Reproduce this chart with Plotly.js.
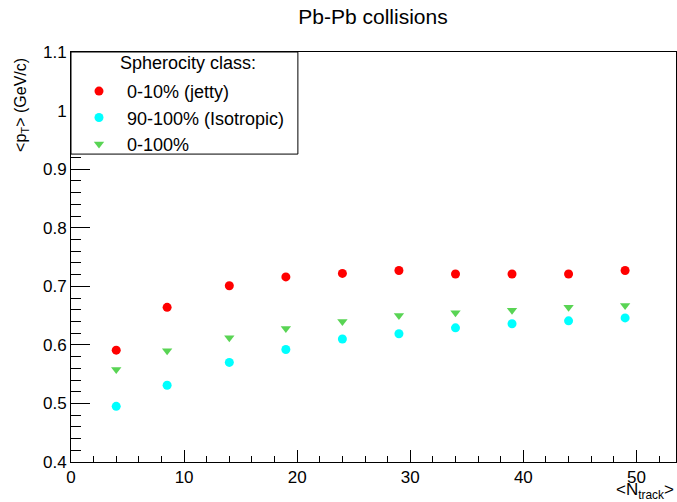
<!DOCTYPE html>
<html>
<head>
<meta charset="utf-8">
<script src="https://cdn.plot.ly/plotly-3.0.1.min.js"></script>
<style>
  body { margin: 0; padding: 0; background: #fff; }
  #chart { width: 677px; height: 502px; }
</style>
</head>
<body>
<div id="chart"></div>
<script>
// mean number of tracks per bin
var nTrack = [4, 8.5, 14, 19, 24, 29, 34, 39, 44, 49];

// <pT> per spherocity class (GeV/c)
var jetty = [0.591, 0.664, 0.701, 0.716, 0.722, 0.727, 0.721, 0.721, 0.721, 0.727];
var isotropic = [0.495, 0.531, 0.570, 0.592, 0.610, 0.619, 0.629, 0.636, 0.641, 0.646];
var allClasses = [0.558, 0.590, 0.612, 0.628, 0.640, 0.650, 0.655, 0.659, 0.664, 0.667];

var names = ['0-10% (jetty)', '90-100% (Isotropic)', '0-100%'];

var font = 'Liberation Sans, Arial, Helvetica, sans-serif';

var trace1 = {
    x: nTrack,
    y: jetty,
    name: names[0],
    mode: 'markers',
    type: 'scatter',
    marker: { color: '#ff0000', size: 9, symbol: 'circle' },
    hoverinfo: 'none'
};
var trace2 = {
    x: nTrack,
    y: isotropic,
    name: names[1],
    mode: 'markers',
    type: 'scatter',
    marker: { color: '#00ffff', size: 9, symbol: 'circle' },
    hoverinfo: 'none'
};
var trace3 = {
    x: nTrack,
    y: allClasses,
    name: names[2],
    mode: 'markers',
    type: 'scatter',
    marker: { color: '#59d454', size: 9, symbol: 'triangle-down' },
    hoverinfo: 'none'
};
var data = [trace1, trace2, trace3];

var layout = {
    width: 677,
    height: 502,
    margin: { l: 71, r: 1, t: 52, b: 40, pad: 0 },
    paper_bgcolor: '#ffffff',
    plot_bgcolor: '#ffffff',
    font: { family: font, size: 17, color: '#000000' },
    title: {
        text: 'Pb-Pb collisions',
        font: { family: font, size: 21, color: '#000000' },
        x: 0.551,
        xanchor: 'center',
        y: 0.966,
        yanchor: 'middle'
    },
    xaxis: {
        range: [0, 53.5],
        showgrid: false,
        zeroline: false,
        showline: true,
        linecolor: '#000000',
        linewidth: 1,
        mirror: true,
        ticks: 'inside',
        ticklen: 12,
        tickcolor: '#000000',
        dtick: 10,
        tick0: 0,
        tickfont: { family: font, size: 17 },
        minor: { ticks: 'inside', ticklen: 6, dtick: 2, tickcolor: '#000000', showgrid: false },
        fixedrange: true
    },
    yaxis: {
        range: [0.4, 1.1],
        showgrid: false,
        zeroline: false,
        showline: true,
        linecolor: '#000000',
        linewidth: 1,
        mirror: true,
        ticks: 'inside',
        ticklen: 19,
        tickcolor: '#000000',
        dtick: 0.1,
        tick0: 0.4,
        tickfont: { family: font, size: 17 },
        minor: { ticks: 'inside', ticklen: 10, dtick: 0.02, tickcolor: '#000000', showgrid: false },
        fixedrange: true
    },
    shapes: [{
        type: 'rect',
        xref: 'paper', yref: 'paper',
        x0: 0, x1: 0.375, y0: 0.751, y1: 1,
        fillcolor: '#ffffff',
        line: { color: '#000000', width: 1 },
        layer: 'above'
    }],
    annotations: [
        {
            text: 'Spherocity class:',
            xref: 'paper', yref: 'paper',
            x: 0.193, y: 0.973,
            xanchor: 'center', yanchor: 'middle',
            showarrow: false,
            font: { family: font, size: 18 }
        },
        {
            text: '&lt;p<sub>T</sub>&gt; (GeV/c)',
            xref: 'paper', yref: 'paper',
            x: 0, y: 0.871,
            xshift: -49,
            xanchor: 'center', yanchor: 'middle',
            textangle: -90,
            showarrow: false,
            font: { family: font, size: 16 }
        },
        {
            text: '&lt;N<sub>track</sub>&gt;',
            xref: 'paper', yref: 'paper',
            x: 1, y: 0,
            yshift: -29,
            xanchor: 'right', yanchor: 'middle',
            showarrow: false,
            font: { family: font, size: 17 }
        }
    ],
    legend: {
        x: 0, y: 0.949,
        xanchor: 'left', yanchor: 'top',
        bgcolor: 'rgba(0,0,0,0)',
        borderwidth: 0,
        itemwidth: 46,
        font: { family: font, size: 18 }
    },
    showlegend: true
};

Plotly.newPlot('chart', data, layout, { displayModeBar: false, staticPlot: true });
</script>
</body>
</html>
